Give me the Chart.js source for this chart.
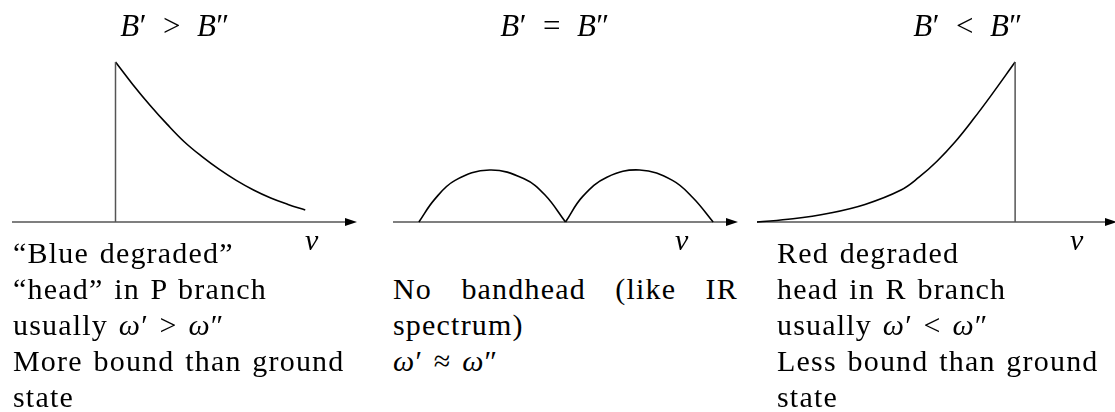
<!DOCTYPE html>
<html>
<head>
<meta charset="utf-8">
<title>Band head shapes</title>
<script src="https://cdn.jsdelivr.net/npm/chart.js@4"></script>
<style>
    html, body { margin: 0; padding: 0; background: #fff; overflow: hidden; }
    #stage { position: relative; width: 1115px; height: 412px; overflow: hidden; }
    canvas { position: absolute; top: 0; }
    .txt {
        position: absolute;
        font-family: "Liberation Serif", "Times New Roman", serif;
        font-size: 30px;
        line-height: 36px;
        letter-spacing: 1.2px;
        word-spacing: 2px;
        color: #000;
        white-space: nowrap;
    }
    .title { transform: translateX(-50%); font-size: 31px; letter-spacing: 0.5px; word-spacing: 0; }
    .just { white-space: normal; text-align: justify; text-align-last: justify; }
</style>
</head>
<body>
<div id="stage">
    <canvas id="blue" width="370" height="240" style="left:0px"></canvas>
    <canvas id="none" width="370" height="240" style="left:380px"></canvas>
    <canvas id="red" width="375" height="240" style="left:745px"></canvas>
</div>
<script>
// Wavenumber (arbitrary units, 0..10 along each axis) and relative intensity

// B' > B'' : head on the low side, tail degrades to the blue
const blueNu  = [3, 3.5, 4, 4.5, 5, 5.5, 6, 6.5, 7, 7.5, 8, 8.5];
const blueInt = [1, 0.86, 0.73, 0.61, 0.5, 0.41, 0.33, 0.26, 0.2, 0.15, 0.11, 0.075];
const blueHead = 3;

// B' = B'' : two branches, no head
const pBranchNu  = [0.75, 1.2, 1.8, 2.8, 3.8, 4.4, 5.0];
const pBranchInt = [0, 0.14, 0.26, 0.325, 0.27, 0.17, 0];
const rBranchNu  = [5.0, 5.5, 6.2, 7.15, 8.1, 8.7, 9.28];
const rBranchInt = [0, 0.16, 0.28, 0.325, 0.26, 0.15, 0];

// B' < B'' : head on the high side, tail degrades to the red
const redNu  = [0, 1, 2, 3, 4, 4.5, 5, 5.5, 6, 6.5, 7.17];
const redInt = [0, 0.02, 0.055, 0.11, 0.2, 0.28, 0.38, 0.5, 0.64, 0.79, 1];
const redHead = 7.17;

// Labels
const titles = ['<i>B</i>′&ensp;&gt;&ensp;<i>B</i>″', '<i>B</i>′&ensp;=&ensp;<i>B</i>″', '<i>B</i>′&ensp;&lt;&ensp;<i>B</i>″'];
const titleCenters = [175, 555, 968];
const nuLefts = [305, 675, 1070];
const blueNotes = ['“Blue degraded”', '“head” in P branch', 'usually <i>ω</i>′ &gt; <i>ω</i>″', 'More bound than ground', 'state'];
const noneNotes = ['', 'No bandhead (like IR', 'spectrum)', '<i>ω</i>′ ≈ <i>ω</i>″'];
const redNotes  = ['Red degraded', 'head in R branch', 'usually <i>ω</i>′ &lt; <i>ω</i>″', 'Less bound than ground', 'state'];

const curveColor = '#000';
const axisColor = '#555';

// draws the frequency axis with its arrow, from the x scale
const axisArrow = {
    id: 'axisArrow',
    beforeDatasetsDraw(chart) {
        const { ctx, scales: { x, y } } = chart;
        const y0 = y.getPixelForValue(0);
        const x0 = x.getPixelForValue(x.min);
        const x1 = x.getPixelForValue(x.max);
        ctx.save();
        ctx.strokeStyle = axisColor;
        ctx.lineWidth = 1.5;
        ctx.beginPath();
        ctx.moveTo(x0, y0);
        ctx.lineTo(x1 - 6, y0);
        ctx.stroke();
        ctx.fillStyle = '#000';
        ctx.beginPath();
        ctx.moveTo(x1, y0);
        ctx.lineTo(x1 - 12, y0 - 4);
        ctx.lineTo(x1 - 12, y0 + 4);
        ctx.closePath();
        ctx.fill();
        ctx.restore();
    }
};

function curve(xs, ys) {
    return {
        data: xs.map((v, i) => ({ x: v, y: ys[i] })),
        borderColor: curveColor,
        borderWidth: 1.6,
        pointRadius: 0,
        showLine: true,
        tension: 0.4,
        clip: false
    };
}

function headLine(nu) {
    return {
        data: [{ x: nu, y: 0 }, { x: nu, y: 1 }],
        borderColor: axisColor,
        borderWidth: 1.5,
        pointRadius: 0,
        showLine: true,
        clip: false
    };
}

function makeBandChart(id, datasets, padding) {
    return new Chart(document.getElementById(id), {
        type: 'scatter',
        data: { datasets: datasets },
        options: {
            responsive: false,
            animation: false,
            events: [],
            layout: { padding: padding },
            plugins: { legend: { display: false }, tooltip: { enabled: false } },
            scales: {
                x: { type: 'linear', display: false, min: 0, max: 10 },
                y: { type: 'linear', display: false, min: 0, max: 1 }
            }
        },
        plugins: [axisArrow]
    });
}

makeBandChart('blue', [headLine(blueHead), curve(blueNu, blueInt)],
    { left: 12, right: 13, top: 62, bottom: 18 });
makeBandChart('none', [curve(pBranchNu, pBranchInt), curve(rBranchNu, rBranchInt)],
    { left: 13, right: 12, top: 62, bottom: 18 });
makeBandChart('red', [headLine(redHead), curve(redNu, redInt)],
    { left: 12, right: 3, top: 62, bottom: 18 });

// text
const stage = document.getElementById('stage');
function addText(html, left, top, cls) {
    const d = document.createElement('div');
    d.className = 'txt' + (cls ? ' ' + cls : '');
    d.style.left = left + 'px';
    d.style.top = top + 'px';
    d.innerHTML = html;
    stage.appendChild(d);
    return d;
}

titles.forEach((t, i) => addText(t, titleCenters[i], 8, 'title'));
nuLefts.forEach(x => addText('<i>ν</i>', x, 222));

function addNotes(lines, left, top) {
    lines.forEach((line, i) => addText(line, left, top + i * 36));
}
addNotes(blueNotes, 13, 235);
addNotes(redNotes, 777, 235);
noneNotes.forEach((line, i) => {
    const d = addText(line, 393, 235 + i * 36, i === 1 ? 'just' : '');
    if (i === 1) d.style.width = '345px';
});
</script>
</body>
</html>
